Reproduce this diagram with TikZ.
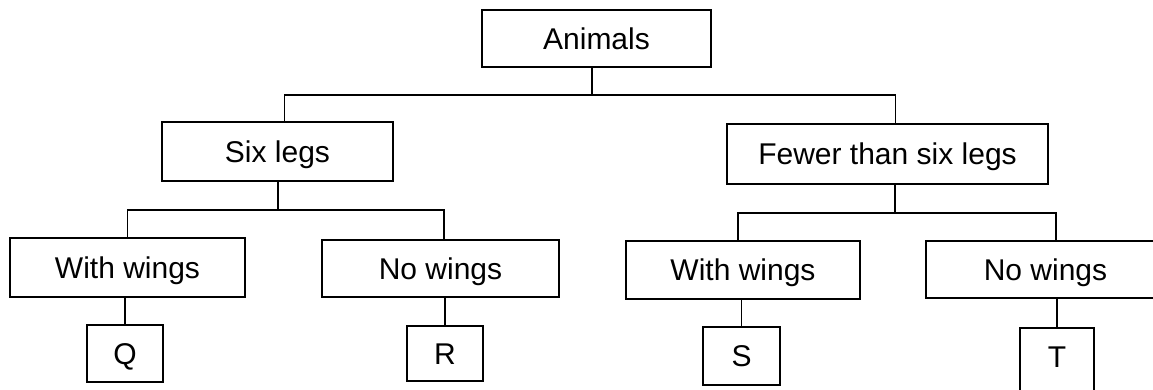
\documentclass[tikz,border=0pt]{standalone}
\usepackage{fontspec}
\setmainfont{Liberation Sans}
\begin{document}
\begin{tikzpicture}[x=1pt,y=-1pt,
  box/.style={draw=black,line width=1.8pt,rectangle,inner sep=0pt,
    font=\fontsize{30}{36}\selectfont,text height=21.5pt,text depth=0pt,anchor=center},
  conn/.style={draw=black,line width=1.8pt}]
\useasboundingbox (0,0) rectangle (1153,389);
\fill[white] (0,0) rectangle (1153,389);
% nodes
\node[box,minimum width=229pt,minimum height=57pt] (A) at (596.5,38.5) {Animals};
\node[box,minimum width=231pt,minimum height=59pt] (S6) at (277.5,151.5) {Six legs};
\node[box,minimum width=321pt,minimum height=60pt] (F) at (887.5,154) {Fewer than six legs};
\node[box,minimum width=235pt,minimum height=59pt] (WW1) at (127.5,267.5) {With wings};
\node[box,minimum width=237pt,minimum height=57pt] (NW1) at (440.5,268.5) {No wings};
\node[box,minimum width=234pt,minimum height=58pt] (WW2) at (743,270) {With wings};
\node[box,minimum width=239pt,minimum height=57pt] (NW2) at (1045.5,269.5) {No wings};
\node[box,minimum width=76pt,minimum height=57pt] (Q) at (125,353.5) {Q};
\node[box,minimum width=76pt,minimum height=55pt] (R) at (445,353.5) {R};
\node[box,minimum width=77pt,minimum height=58pt] (S) at (741.5,356) {S};
\node[box,minimum width=74pt,minimum height=66pt,text depth=8pt] (T) at (1057,361) {T};
% junctions
\coordinate (j0) at (592,95);
\coordinate (j1) at (278,210);
\coordinate (j2) at (895,213);
% connectors
\draw[conn] (A.south -| j0) -- (j0);
\draw[conn] ([xshift=7pt]S6.north) |- (j0) -| ([xshift=8pt]F.north);
\draw[conn] (S6.south -| j1) -- (j1);
\draw[conn] (WW1.north) |- (j1) -| ([xshift=3.5pt]NW1.north);
\draw[conn] (F.south -| j2) -- (j2);
\draw[conn] ([xshift=-5pt]WW2.north) |- (j2) -| ([xshift=10.5pt]NW2.north);
\draw[conn] (WW1.south -| Q.north) -- (Q.north);
\draw[conn] (NW1.south -| R.north) -- (R.north);
\draw[conn] (WW2.south -| S.north) -- (S.north);
\draw[conn] (NW2.south -| T.north) -- (T.north);
\end{tikzpicture}
\end{document}
